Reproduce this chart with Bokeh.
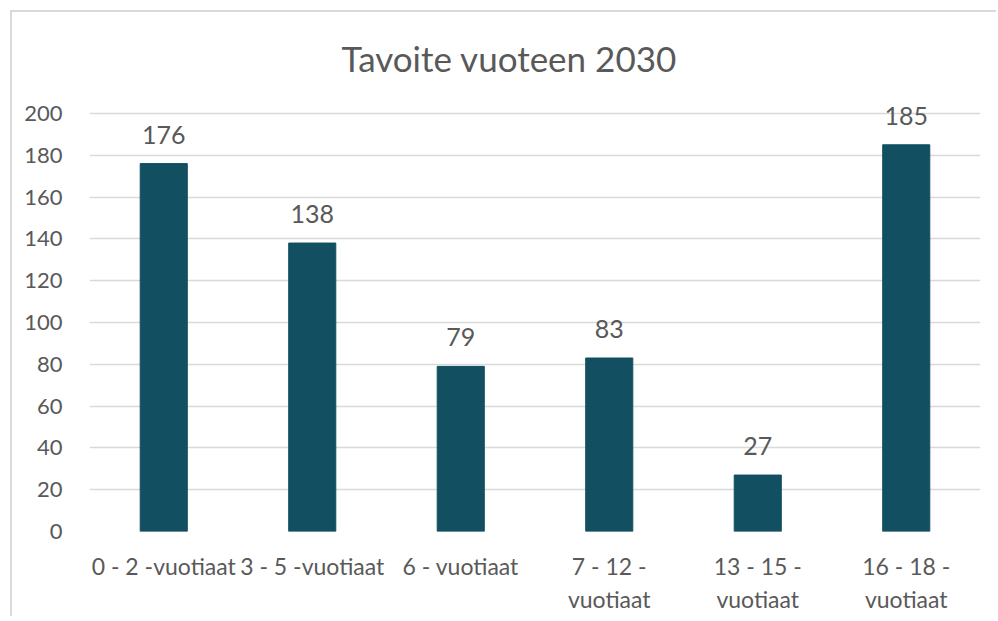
from bokeh.plotting import figure
from bokeh.models import ColumnDataSource, LabelSet, FixedTicker
from bokeh.core.properties import value
from bokeh.embed import file_html
from bokeh.resources import INLINE

categories = ["0 - 2 -vuotiaat", "3 - 5 -vuotiaat", "6 - vuotiaat",
              "7 - 12 -\nvuotiaat", "13 - 15 -\nvuotiaat", "16 - 18 -\nvuotiaat"]
values = [176, 138, 79, 83, 27, 185]
y_ticks = [0, 20, 40, 60, 80, 100, 120, 140, 160, 180, 200]

FONT = "Lato"
TXT = "#595959"

src = ColumnDataSource(dict(cat=categories, val=values, lab=[str(v) for v in values]))

p = figure(x_range=categories, y_range=(0, 214.8), width=986, height=606,
           output_backend="svg", toolbar_location=None,
           title="Tavoite vuoteen 2030",
           min_border_left=77, min_border_right=18, min_border_bottom=87, min_border_top=70)

p.vbar(x="cat", top="val", width=0.317, source=src, color="#114F61")

labels = LabelSet(x="cat", y="val", text="lab", source=src, text_align="center",
                  text_baseline="alphabetic", y_offset=20, text_font=value(FONT),
                  text_font_size="25px", text_color=TXT)
p.add_layout(labels)

p.title.align = "left"
p.title.offset = 252
p.title.text_font = FONT
p.title.text_font_size = "35px"
p.title.text_font_style = "normal"
p.title.text_color = TXT
p.title.standoff = 7

p.outline_line_color = None
p.xgrid.grid_line_color = None
p.ygrid.grid_line_color = "#D9D9D9"
p.ygrid.grid_line_width = 1.5
p.yaxis.ticker = FixedTicker(ticks=y_ticks)

for ax in (p.xaxis, p.yaxis):
    ax.axis_line_color = None
    ax.major_tick_line_color = None
    ax.minor_tick_line_color = None
    ax.major_label_text_font = FONT
    ax.major_label_text_color = TXT

p.xaxis.major_label_text_font_size = "23px"
p.yaxis.major_label_text_font_size = "22px"
p.yaxis.major_label_standoff = 21
p.xaxis.major_label_standoff = 14
p.x_range.range_padding = 0

p.styles = {"margin-left": "10px", "margin-top": "10px",
            "border-left": "2px solid #D9D9D9", "border-top": "2px solid #D9D9D9"}

open("out.html", "w").write(file_html(p, INLINE))
